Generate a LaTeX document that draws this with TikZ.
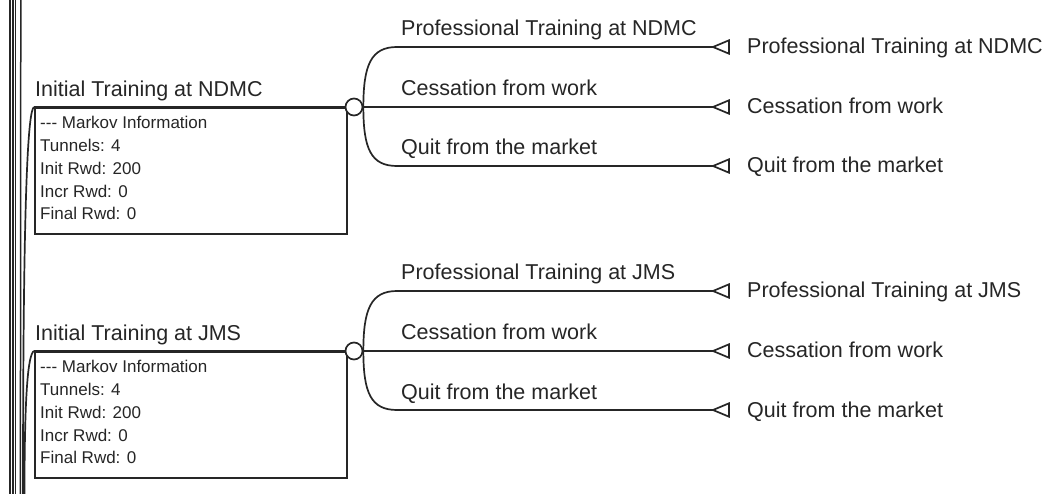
\documentclass[tikz,border=0pt]{standalone}
\usepackage{fontspec}
\setmainfont{Liberation Sans}
\definecolor{ink}{HTML}{262626}

% One Markov branch: chance node, info box, three outcomes with terminal nodes
% #1 vertical offset, #2 name prefix, #3 state label, #4 training label
\newcommand{\markovgroup}[4]{%
  \begin{scope}[shift={(0,#1)}]
    \coordinate (#2root) at (34,107);
    \node[infobox, anchor=north west] (#2box) at (34,107) {};
    \node[chance] (#2c) at (354,107) {};
    \node[lbl] (#2init) at (35,97) {#3};
    \foreach \txt [count=\i from 0] in {{-{}-{}- Markov Information},{Tunnels: 4},{Init Rwd: 200},{Incr Rwd: 0},{Final Rwd: 0}}
      \node[info] (#2info\i) at (40,129+22.7*\i) {\txt};
    % branch bends
    \coordinate (#2up) at (397,47);
    \coordinate (#2lo) at (397,166);
    % terminal node tips
    \coordinate (#2t1) at (713,47);
    \coordinate (#2t2) at (713,107);
    \coordinate (#2t3) at (713,166);
    \draw[wire] (#2root) -- (#2c.west);
    \draw[wire] (#2c.east) .. controls +(0,-42) and +(-26,0) .. (#2up) -- (#2t1);
    \draw[wire] (#2c.east) -- (#2t2);
    \draw[wire] (#2c.east) .. controls +(0,42) and +(-26,0) .. (#2lo) -- (#2t3);
    \foreach \t in {t1,t2,t3}
      \draw[wire, line join=miter] (#2\t) -- ++(16,-6.7) -- ++(0,13.4) -- cycle;
    % branch labels
    \node[lbl] (#2b1) at (401,36) {#4};
    \node[lbl] (#2b2) at (401,96) {Cessation from work};
    \node[lbl] (#2b3) at (401,155) {Quit from the market};
    % terminal labels
    \node[lbl] (#2e1) at (747,54) {#4};
    \node[lbl] (#2e2) at (747,114) {Cessation from work};
    \node[lbl] (#2e3) at (747,173) {Quit from the market};
  \end{scope}}

\begin{document}
\begin{tikzpicture}[x=1bp,y=-1bp,
  wire/.style={line width=1.7bp, draw=ink},
  infobox/.style={draw=ink, line width=1.7bp, minimum width=312bp, minimum height=126bp, inner sep=0},
  chance/.style={circle, draw=ink, line width=1.7bp, fill=white, minimum size=17bp, inner sep=0},
  lbl/.style={font=\fontsize{21.5bp}{25bp}\selectfont, text=ink, inner sep=0, anchor=base west},
  info/.style={font=\fontsize{17bp}{20bp}\selectfont, text=ink, inner sep=0, anchor=base west}]
\useasboundingbox (0,0) rectangle (1047,494);
\fill[white] (0,0) rectangle (1047,494);

% parent branches running off the top and bottom edges
\draw[ink, line width=2.4bp] (10,0) -- (10,494);
\draw[ink, line width=1.4bp] (13,0) -- (13,494);
\draw[ink, line width=1.1bp] (15.4,0) -- (15.4,494);
\draw[ink, line width=1.5bp] (20.8,0) -- (20.4,494);

\markovgroup{0}{A}{Initial Training at NDMC}{Professional Training at NDMC}
\markovgroup{244}{B}{Initial Training at JMS}{Professional Training at JMS}

% parent branch curves into the two states
\coordinate (Adown) at (23,494);
\coordinate (Bdown) at (24.5,494);
\draw[wire] (Aroot) .. controls +(-6,3) and +(0,-300) .. (Adown);
\draw[wire] (Broot) .. controls +(-6,3) and +(0,-100) .. (Bdown);
\end{tikzpicture}
\end{document}
